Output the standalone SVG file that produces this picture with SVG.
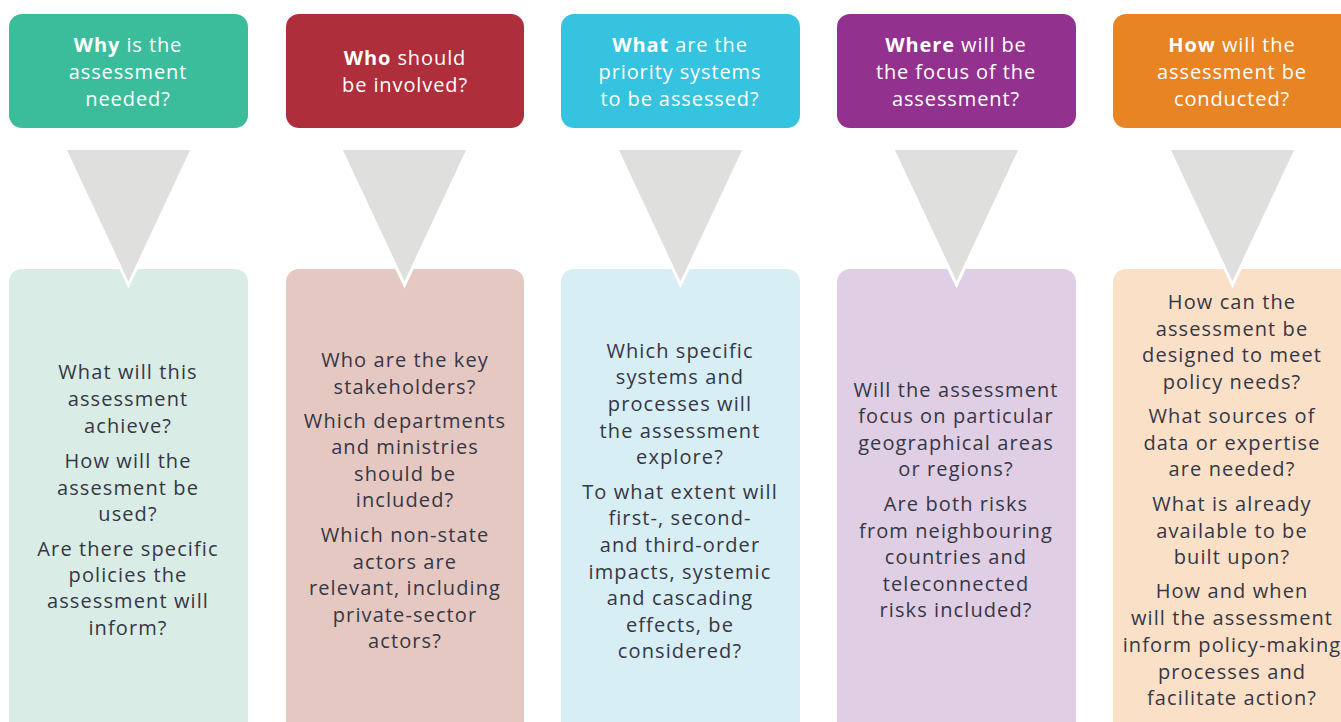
<svg xmlns="http://www.w3.org/2000/svg" width="1341" height="722" viewBox="0 0 1341 722">
<style>
.h{font-family:"Open Sans","Liberation Sans",sans-serif;font-size:20px;fill:#ffffff;text-anchor:middle;letter-spacing:0.9px}
.h tspan.b{font-weight:bold}
.t{font-family:"Open Sans","Liberation Sans",sans-serif;font-size:20px;fill:#353744;text-anchor:middle;letter-spacing:1.1px}
.tri{fill:#dfe0de;stroke:#ffffff;stroke-width:3;stroke-linejoin:miter}
</style>
<rect width="1341" height="722" fill="#ffffff"/>
<g id="why">
<rect x="9" y="14" width="239" height="114" rx="13" fill="#3bbd9c"/>
<text class="h" x="128"><tspan x="128" y="52"><tspan class="b">Why</tspan> is the</tspan><tspan x="128" y="79">assessment</tspan><tspan x="128" y="106">needed?</tspan></text>
</g>
<g id="who">
<rect x="286" y="14" width="238" height="114" rx="13" fill="#ae2e3b"/>
<text class="h"><tspan x="405" y="65"><tspan class="b">Who</tspan> should</tspan><tspan x="405" y="92">be involved?</tspan></text>
</g>
<g id="what">
<rect x="561" y="14" width="239" height="114" rx="13" fill="#35c3e0"/>
<text class="h"><tspan x="680" y="52"><tspan class="b">What</tspan> are the</tspan><tspan x="680" y="79">priority systems</tspan><tspan x="680" y="106">to be assessed?</tspan></text>
</g>
<g id="where">
<rect x="837" y="14" width="239" height="114" rx="13" fill="#93318e"/>
<text class="h"><tspan x="956" y="52"><tspan class="b">Where</tspan> will be</tspan><tspan x="956" y="79">the focus of the</tspan><tspan x="956" y="106">assessment?</tspan></text>
</g>
<g id="how">
<rect x="1113" y="14" width="240" height="114" rx="13" fill="#e88424"/>
<text class="h"><tspan x="1232" y="52"><tspan class="b">How</tspan> will the</tspan><tspan x="1232" y="79">assessment be</tspan><tspan x="1232" y="106">conducted?</tspan></text>
</g>
<g id="why-detail">
<rect x="9" y="269" width="239" height="470" rx="13" fill="#d9ede6"/>
<text class="t"><tspan x="128" y="379">What will this</tspan><tspan x="128" y="406">assessment</tspan><tspan x="128" y="433">achieve?</tspan><tspan x="128" y="468">How will the</tspan><tspan x="128" y="495">assesment be</tspan><tspan x="128" y="521">used?</tspan><tspan x="128" y="556">Are there specific</tspan><tspan x="128" y="582">policies the</tspan><tspan x="128" y="608">assessment will</tspan><tspan x="128" y="635">inform?</tspan></text>
</g>
<g id="who-detail">
<rect x="286" y="269" width="238" height="470" rx="13" fill="#e6c8c3"/>
<text class="t"><tspan x="405" y="367">Who are the key</tspan><tspan x="405" y="394">stakeholders?</tspan><tspan x="405" y="428">Which departments</tspan><tspan x="405" y="454">and ministries</tspan><tspan x="405" y="481">should be</tspan><tspan x="405" y="507">included?</tspan><tspan x="405" y="542">Which non-state</tspan><tspan x="405" y="569">actors are</tspan><tspan x="405" y="595">relevant, including</tspan><tspan x="405" y="622">private-sector</tspan><tspan x="405" y="648">actors?</tspan></text>
</g>
<g id="what-detail">
<rect x="561" y="269" width="239" height="470" rx="13" fill="#d8eef5"/>
<text class="t"><tspan x="680" y="358">Which specific</tspan><tspan x="680" y="384">systems and</tspan><tspan x="680" y="411">processes will</tspan><tspan x="680" y="438">the assessment</tspan><tspan x="680" y="464">explore?</tspan><tspan x="680" y="499">To what extent will</tspan><tspan x="680" y="525">first-, second-</tspan><tspan x="680" y="552">and third-order</tspan><tspan x="680" y="579">impacts, systemic</tspan><tspan x="680" y="605">and cascading</tspan><tspan x="680" y="632">effects, be</tspan><tspan x="680" y="658">considered?</tspan></text>
</g>
<g id="where-detail">
<rect x="837" y="269" width="239" height="470" rx="13" fill="#e0cfe4"/>
<text class="t"><tspan x="956" y="397">Will the assessment</tspan><tspan x="956" y="423">focus on particular</tspan><tspan x="956" y="450">geographical areas</tspan><tspan x="956" y="476">or regions?</tspan><tspan x="956" y="511">Are both risks</tspan><tspan x="956" y="538">from neighbouring</tspan><tspan x="956" y="564">countries and</tspan><tspan x="956" y="591">teleconnected</tspan><tspan x="956" y="617">risks included?</tspan></text>
</g>
<g id="how-detail">
<rect x="1113" y="269" width="240" height="470" rx="13" fill="#fbe0c8"/>
<text class="t"><tspan x="1232" y="309">How can the</tspan><tspan x="1232" y="336">assessment be</tspan><tspan x="1232" y="362">designed to meet</tspan><tspan x="1232" y="389">policy needs?</tspan><tspan x="1232" y="423">What sources of</tspan><tspan x="1232" y="450">data or expertise</tspan><tspan x="1232" y="476">are needed?</tspan><tspan x="1232" y="511">What is already</tspan><tspan x="1232" y="538">available to be</tspan><tspan x="1232" y="564">built upon?</tspan><tspan x="1232" y="598">How and when</tspan><tspan x="1232" y="625">will the assessment</tspan><tspan x="1232" y="652">inform policy-making</tspan><tspan x="1232" y="679">processes and</tspan><tspan x="1232" y="705">facilitate action?</tspan></text>
</g>
<g id="connectors">
<polygon class="tri" points="64.5,148.5 192.5,148.5 128.5,285"/>
<polygon class="tri" points="340.5,148.5 468.5,148.5 404.5,285"/>
<polygon class="tri" points="616.5,148.5 744.5,148.5 680.5,285"/>
<polygon class="tri" points="892.5,148.5 1020.5,148.5 956.5,285"/>
<polygon class="tri" points="1168.5,148.5 1296.5,148.5 1232.5,285"/>
</g>
</svg>
